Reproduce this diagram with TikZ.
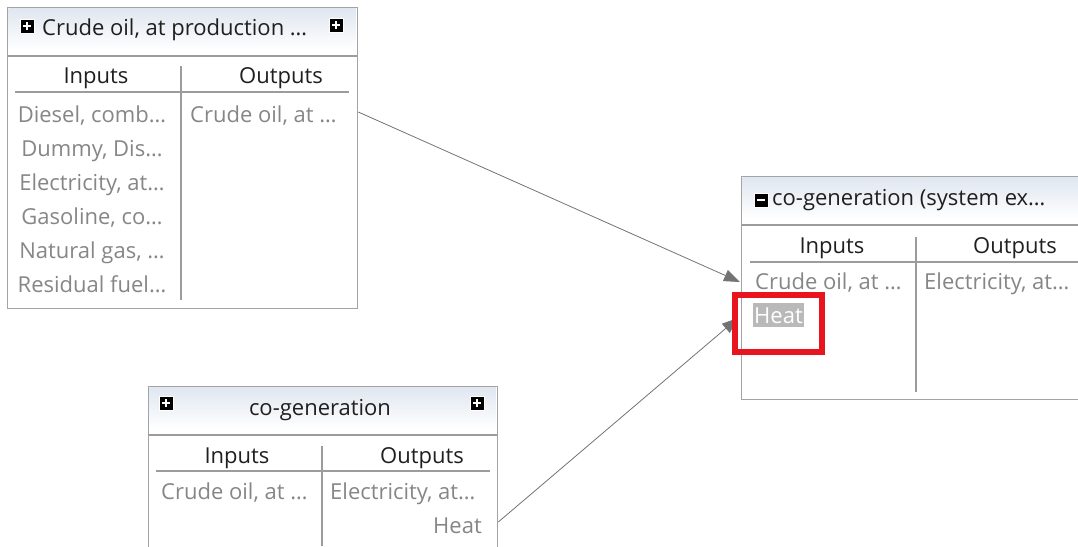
\documentclass[tikz,border=0pt]{standalone}
\usepackage{fontspec}
\setmainfont{Open Sans}
\definecolor{pmFrame}{HTML}{A3A3A3}
\definecolor{pmRule}{HTML}{9C9C9C}
\definecolor{pmHead}{HTML}{E0E7F0}
\definecolor{pmText}{HTML}{1F1F1F}
\definecolor{pmCell}{HTML}{868686}
\definecolor{pmLink}{HTML}{737373}
\definecolor{pmMark}{HTML}{E8141E}
\usetikzlibrary{
	arrows.meta,
	positioning,
	calc
}

\begin{document}
\begin{tikzpicture}[x=1pt, y=-1pt,
		box/.style={rectangle, draw=pmFrame, line width=1.3pt, anchor=north west, inner sep=0pt},
		head/.style={anchor=base, inner sep=0pt, text=pmText, font=\fontsize{22}{26}\selectfont},
		cell/.style={anchor=base, inner sep=0pt, text=pmCell, font=\fontsize{22}{26}\selectfont},
		rule/.style={draw=pmRule, line width=1.3pt},
		icon/.style={rectangle, fill=black, draw=white, line width=1pt, minimum size=14pt, inner sep=0pt},
		plus/.style={icon, path picture={\draw[white, line width=1.8pt]
			([xshift=-4pt]path picture bounding box.center) -- ([xshift=4pt]path picture bounding box.center)
			([yshift=-4pt]path picture bounding box.center) -- ([yshift=4pt]path picture bounding box.center);}},
		minus/.style={icon, path picture={\draw[white, line width=1.8pt]
			([xshift=-4pt]path picture bounding box.center) -- ([xshift=4pt]path picture bounding box.center);}},
		link/.style={-{Triangle[length=16pt, width=12pt]}, draw=pmLink, line width=0.8pt},
		redframe/.style={draw=pmMark, line width=6pt}
	]
		\clip (0,0) rectangle (1078,546);

		% crude oil process
		\node[box, minimum width=350pt, minimum height=301pt] (crude) at (7,7) {};
		\shade[top color=pmHead, bottom color=white] (8.5,8.5) rectangle (355.5,50);
		\draw[rule] (7,56) -- (357,56);
		\node[plus] (crudeplusL) at (27,26) {};
		\node[plus] (crudeplusR) at (336,25) {};
		\node[head, anchor=base west] (crudetitle) at (42,35) {Crude oil, at production …};
		\node[head] (crudein) at (96,83) {Inputs};
		\node[head] (crudeout) at (281,83) {Outputs};
		\draw[rule] (15,92) -- (349,92);
		\draw[rule] (181,66) -- (181,300);
		\foreach \txt [count=\i] in {{Diesel, comb…}, {Dummy, Dis…}, {Electricity, at…},
				{Gasoline, co…}, {Natural gas, …}, {Residual fuel…}}
			\node[cell] (crudein\i) at (92,88+34*\i) {\txt};
		\node[cell, anchor=base west] (crudeo1) at (190,122) {Crude oil, at …};

		% co-generation (system expansion)
		\node[box, minimum width=400pt, minimum height=223pt] (sysex) at (741,176) {};
		\shade[top color=pmHead, bottom color=white] (742.5,177.5) rectangle (1078,219);
		\draw[rule] (741,225) -- (1078,225);
		\node[minus] (sysexminus) at (761,200) {};
		\node[head, anchor=base west] (sysextitle) at (772,205) {co-generation (system ex…};
		\node[head] (sysexin) at (832,253) {Inputs};
		\node[head] (sysexout) at (1015,253) {Outputs};
		\draw[rule] (750,262) -- (1078,262);
		\draw[rule] (916,237) -- (916,392);
		\node[cell, anchor=base west] (sysexin1) at (755,289) {Crude oil, at …};
		\node[cell, anchor=base west, text=white, fill=gray!55, inner xsep=1pt, inner ysep=4pt] (sysexheat) at (753,323) {Heat};
		\node[cell, anchor=base west] (sysexo1) at (924,289) {Electricity, at…};

		% co-generation
		\node[box, minimum width=349pt, minimum height=200pt] (cogen) at (148,386) {};
		\shade[top color=pmHead, bottom color=white] (149.5,387.5) rectangle (495.5,429);
		\draw[rule] (148,435) -- (497,435);
		\node[plus] (cogenplusL) at (166,403) {};
		\node[plus] (cogenplusR) at (477,403) {};
		\node[head] (cogentitle) at (320,415) {co-generation};
		\node[head] (cogenin) at (237,463) {Inputs};
		\node[head] (cogenout) at (422,463) {Outputs};
		\draw[rule] (156,471) -- (490,471);
		\draw[rule] (322,446) -- (322,546);
		\node[cell, anchor=base west] (cogenin1) at (161,499) {Crude oil, at …};
		\node[cell, anchor=base west] (cogeno1) at (330,499) {Electricity, at…};
		\node[cell, anchor=base east] (cogenheat) at (482,533) {Heat};

		\draw[link] ($(crude.east |- crudeo1.base)+(0,-10)$) -- ($(sysex.west |- sysexin1.base)+(-1,-7)$);
		\draw[link] ($(cogen.east |- cogenheat.base)+(0,-11)$) -- ($(sysex.west |- sysexheat.base)+(-3,-5)$);
		\draw[redframe] (735,295) rectangle (822,352);
	\end{tikzpicture}
\end{document}
